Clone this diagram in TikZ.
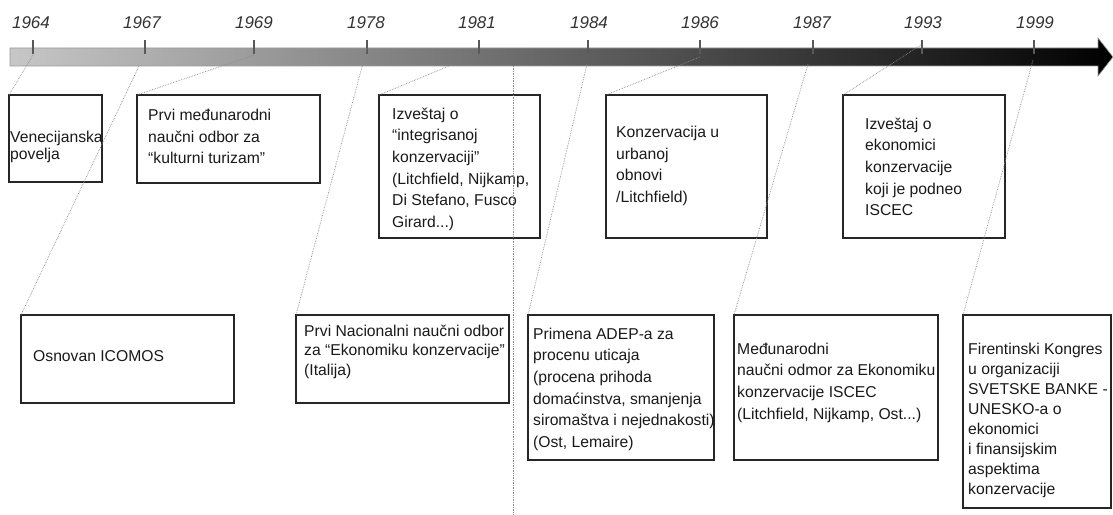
\documentclass[tikz,border=0pt]{standalone}
\usepackage{fontspec}
\setmainfont{Liberation Sans}
\usetikzlibrary{positioning}

\begin{document}
\begin{tikzpicture}[x=1bp, y=-1bp,
    event/.style={rectangle, draw=black!85, line width=2.3bp, inner sep=0pt, outer sep=0pt, anchor=north west},
    eventtext/.style={inner sep=0pt, align=left, text=black!90, font=\fontsize{15.7bp}{#1}\selectfont},
    eventtext/.default=21.7bp,
    year/.style={font=\fontsize{17bp}{20bp}\selectfont\itshape, text=black!80},
    tick/.style={line width=1.2bp, black!65},
    link/.style={densely dotted, black!45, line width=0.7bp}
]
\useasboundingbox (0,0) rectangle (1113,515);

% Time axis
\shadedraw[left color=black!22, middle color=black!50, right color=black, draw=black!40, line width=0.6bp]
    (10,48) -- (1098,48) -- (1098,38) -- (1113,57) -- (1098,76) -- (1098,66) -- (10,66) -- cycle;

% Years
\node[year] (y1964) at (31,23) {1964};
\node[year] (y1967) at (142,23) {1967};
\node[year] (y1969) at (254,23) {1969};
\node[year] (y1978) at (366,23) {1978};
\node[year] (y1981) at (477,23) {1981};
\node[year] (y1984) at (589,23) {1984};
\node[year] (y1986) at (700,23) {1986};
\node[year] (y1987) at (812,23) {1987};
\node[year] (y1993) at (923,23) {1993};
\node[year] (y1999) at (1035,23) {1999};

% Ticks
\draw[tick] (33,40) -- (33,54);
\draw[tick] (145,40) -- (145,54);
\draw[tick] (254,40) -- (254,54);
\draw[tick] (367,40) -- (367,54);
\draw[tick] (479,40) -- (479,54);
\draw[tick] (588,40) -- (588,54);
\draw[tick] (700,40) -- (700,54);
\draw[tick] (813,40) -- (813,54);
\draw[tick] (922,40) -- (922,54);
\draw[tick] (1034,40) -- (1034,54);

% Points on the axis
\coordinate (c1964) at (33,55);
\coordinate (c1967) at (139,66);
\coordinate (c1969) at (254,55);
\coordinate (c1978) at (367,48);
\coordinate (c1981) at (449,66);
\coordinate (c1984) at (587,64);
\coordinate (c1986) at (700,57);
\coordinate (c1987) at (808,64);
\coordinate (c1993) at (921,45);
\coordinate (c1999) at (1033,60);
\coordinate (mid-top) at (513,66);
\coordinate (mid-bot) at (513,515);

% Upper events
\node[event, minimum width=93bp, minimum height=87bp] (ven) at (9,95) {};
\node[event, minimum width=183bp, minimum height=88bp] (kul) at (137,95) {};
\node[event, minimum width=161bp, minimum height=143bp] (int) at (379,95) {};
\node[event, minimum width=161bp, minimum height=143bp] (urb) at (606,95) {};
\node[event, minimum width=162bp, minimum height=143bp] (eko) at (843,95) {};

% Lower events
\node[event, minimum width=213bp, minimum height=88bp] (ico) at (21,315) {};
\node[event, minimum width=213bp, minimum height=88bp] (nac) at (296,315) {};
\node[event, minimum width=186bp, minimum height=145bp] (ade) at (528,315) {};
\node[event, minimum width=204bp, minimum height=145bp] (odm) at (734,315) {};
\node[event, minimum width=148bp, minimum height=193bp] (fir) at (963,315) {};

% Texts
\node[eventtext=16.5bp, below right=36bp and 1bp of ven.north west] (ven-t) {Venecijanska\\povelja};
\node[eventtext, below right=14bp and 11bp of kul.north west] (kul-t) {Prvi međunarodni\\naučni odbor za\\“kulturni turizam”};
\node[eventtext, below right=12.5bp and 13bp of int.north west] (int-t) {Izveštaj o\\“integrisanoj\\konzervaciji”\\(Litchfield, Nijkamp,\\Di Stefano, Fusco\\Girard...)};
\node[eventtext, below right=31bp and 10bp of urb.north west] (urb-t) {Konzervacija u\\urbanoj\\obnovi\\/Litchfield)};
\node[eventtext, below right=22.5bp and 22bp of eko.north west] (eko-t) {Izveštaj o\\ekonomici\\konzervacije\\koji je podneo\\ISCEC};
\node[eventtext, below right=35bp and 12bp of ico.north west] (ico-t) {Osnovan ICOMOS};
\node[eventtext=19.5bp, below right=9.5bp and 8bp of nac.north west] (nac-t) {Prvi Nacionalni naučni odbor\\za “Ekonomiku konzervacije”\\(Italija)};
\node[eventtext, below right=12.5bp and 5bp of ade.north west] (ade-t) {Primena ADEP-a za\\procenu uticaja\\(procena prihoda\\domaćinstva, smanjenja\\siromaštva i nejednakosti)\\(Ost, Lemaire)};
\node[eventtext, below right=27.5bp and 3bp of odm.north west] (odm-t) {Međunarodni\\naučni odmor za Ekonomiku\\konzervacije ISCEC\\(Litchfield, Nijkamp, Ost...)};
\node[eventtext=20bp, below right=28bp and 5bp of fir.north west] (fir-t) {Firentinski Kongres\\u organizaciji\\SVETSKE BANKE -\\UNESKO-a o\\ekonomici\\i finansijskim\\aspektima\\konzervacije};

% Links from the axis
\draw[link] (c1964) -- (ven.north west);
\draw[link] (c1967) -- (ico.north west);
\draw[link] (c1969) -- (kul.north west);
\draw[link] (c1978) -- (nac.north west);
\draw[link] (c1981) -- (int.north west);
\draw[link] (c1984) -- (ade.north west);
\draw[link] (c1986) -- (urb.north west);
\draw[link] (c1987) -- (odm.north west);
\draw[link] (c1993) -- (eko.north west);
\draw[link] (c1999) -- (fir.north west);
\draw[link] (mid-top) -- (mid-bot);

\end{tikzpicture}
\end{document}
